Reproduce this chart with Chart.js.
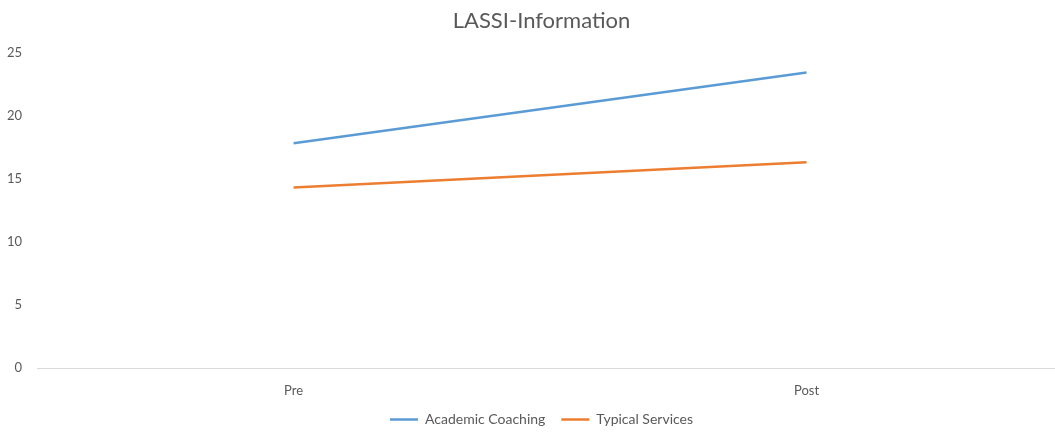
<!DOCTYPE html>
<html>
<head>
<meta charset="utf-8">
<script src="https://cdn.jsdelivr.net/npm/chart.js@4"></script>
<style>
  html, body { margin: 0; padding: 0; background: #fff; }
  #wrap { width: 1055px; height: 432px; }
</style>
</head>
<body>
<div id="wrap"><canvas id="myChart" width="1055" height="432"></canvas></div>
<script>
// chart data
const categories = ["Pre", "Post"];
const academicCoaching = [17.8, 23.4];
const typicalServices = [14.3, 16.3];
const yTicks = [0, 5, 10, 15, 20, 25];

// the original plot area runs past the right edge of the picture,
// so stretch the x scale a bit after layout
const stretchX = {
    id: 'stretchX',
    afterLayout(chart) {
        const x = chart.scales.x;
        x.right = x.left + 1026;
        x.width = x.right - x.left;
        x.configure();
    }
};

const ctx = document.getElementById('myChart').getContext('2d');
const myChart = new Chart(ctx, {
    type: 'line',
    data: {
        labels: categories,
        datasets: [{
            label: 'Academic Coaching',
            data: academicCoaching,
            borderColor: '#5b9bd5',
            backgroundColor: '#5b9bd5',
            borderWidth: 2.5,
            pointRadius: 0,
            pointStyle: 'line',
            tension: 0
        }, {
            label: 'Typical Services',
            data: typicalServices,
            borderColor: '#ed7d31',
            backgroundColor: '#ed7d31',
            borderWidth: 2.5,
            pointRadius: 0,
            pointStyle: 'line',
            tension: 0
        }]
    },
    plugins: [stretchX],
    options: {
        responsive: false,
        animation: false,
        layout: { padding: { left: 0, right: -28, top: 5, bottom: -4.5 } },
        plugins: {
            title: {
                display: true,
                text: 'LASSI-Information',
                color: '#595959',
                font: { family: 'Lato', size: 22, weight: 'normal' },
                padding: { top: 3, bottom: 18 }
            },
            legend: {
                position: 'bottom',
                labels: {
                    usePointStyle: true,
                    pointStyleWidth: 28,
                    boxHeight: 2,
                    color: '#595959',
                    font: { family: 'Lato', size: 14 },
                    padding: 16
                }
            },
            tooltip: { enabled: false }
        },
        scales: {
            x: {
                offset: true,
                grid: { display: false },
                border: { display: true, color: '#d9d9d9', width: 1 },
                ticks: { color: '#595959', font: { family: 'Lato', size: 13 }, padding: 7 },
                afterFit: scale => { scale.height = 28.5; }
            },
            y: {
                min: 0,
                max: 25,
                afterBuildTicks: axis => { axis.ticks = yTicks.map(v => ({ value: v })); },
                grid: { display: false },
                border: { display: false },
                ticks: { color: '#595959', font: { family: 'Lato', size: 13 }, padding: 7 }
            }
        }
    }
});
</script>
</body>
</html>
